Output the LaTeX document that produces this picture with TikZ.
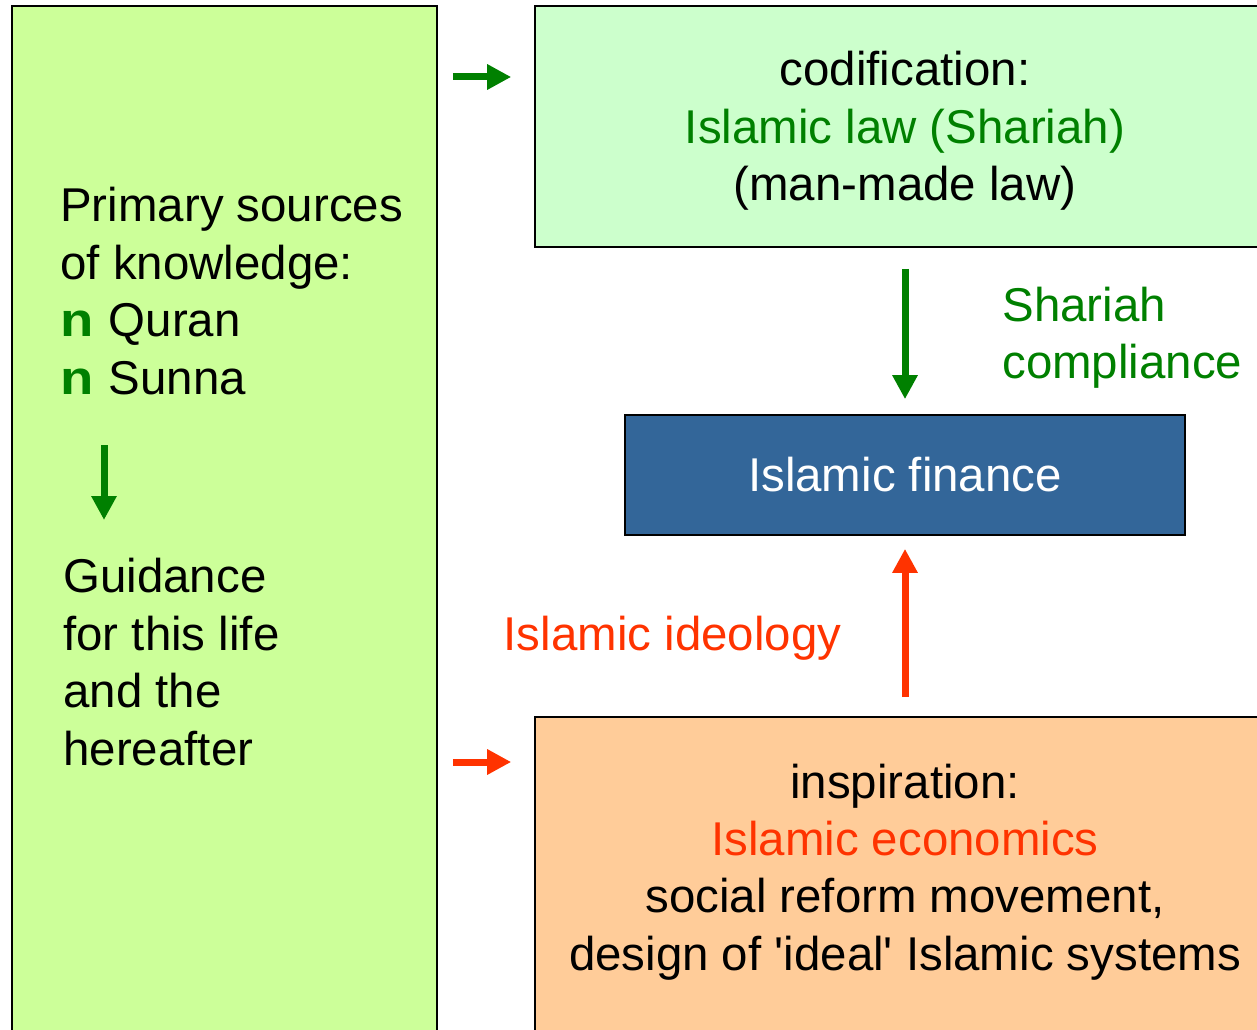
\documentclass[tikz,border=0pt]{standalone}
\usepackage{fontspec}
\setmainfont{Liberation Sans}
\usepackage{xcolor}
\usepackage{tikz}
\usetikzlibrary{positioning, arrows.meta, calc}
\definecolor{srcbg}{HTML}{CCFF99}
\definecolor{lawbg}{HTML}{CCFFCC}
\definecolor{finbg}{HTML}{336699}
\definecolor{ecobg}{HTML}{FFCC99}
\definecolor{shgreen}{HTML}{008000}
\definecolor{idred}{HTML}{FF3300}
\newcommand{\srcbullet}{{\color{shgreen}\textbf{\scalebox{1.15}[1]{n}}}\hspace{0.32em}}
\tikzset{
  box/.style={
    rectangle, draw=black, line width=1pt, inner sep=0pt
  },
  txt/.style={
    inner sep=0pt, font=\fontsize{27}{32.7}\selectfont
  },
  greenarrow/.style={draw=shgreen, line width=0.14cm,
    -{Triangle[width=0.48cm, length=0.48cm]}},
  redarrow/.style={draw=idred, line width=0.14cm,
    -{Triangle[width=0.48cm, length=0.48cm]}},
}

\begin{document}
\begin{tikzpicture}[x=0.02cm, y=-0.02cm]
  \useasboundingbox (0,0) rectangle (1257,1030);
  \clip (0,0) rectangle (1257,1030);

  % boxes
  \node[box, fill=srcbg, minimum width=8.5cm, minimum height=20.88cm] (sources) at (224.5,528) {};
  \node[box, fill=lawbg, minimum width=14.8cm, minimum height=4.82cm] (codif) at (905,126.5) {};
  \node[box, fill=finbg, minimum width=11.2cm, minimum height=2.4cm] (finance) at (905,475) {};
  \node[box, fill=ecobg, minimum width=14.8cm, minimum height=6.66cm] (inspire) at (905,883.5) {};

  % texts
  \node[txt, anchor=west, align=left] (primary) at (60,291)
    {Primary sources\\of knowledge:\\\srcbullet Quran\\\srcbullet Sunna};
  \node[txt, anchor=west, align=left] (guidance) at (63,662)
    {Guidance\\for this life\\and the\\hereafter};
  \node[txt, align=center] (lawtext) at (905,131)
    {codification:\\{\color{shgreen}Islamic law (Shariah)}\\(man-made law)};
  \node[txt, text=white] (fintext) at (905,475) {Islamic finance};
  \node[txt, align=center] (ecotext) at (905,872)
    {inspiration:\\{\color{idred}Islamic economics}\\social reform movement,\\design of \textquotesingle ideal\textquotesingle\ Islamic systems};
  \node[txt, anchor=west, align=left, text=shgreen] (compliance) at (1002,338)
    {Shariah\\compliance};
  \node[txt, text=idred] (ideology) at (672.5,638) {Islamic ideology};

  % arrows
  \coordinate (srcend) at (104,445);
  \coordinate (guideend) at (104,520);
  \draw[greenarrow] (srcend) -- (guideend);
  \draw[greenarrow, shorten <=0.3cm, shorten >=0.46cm] (sources.east |- 0,77) -- (codif.west |- 0,77);
  \draw[redarrow, shorten <=0.3cm, shorten >=0.46cm] (sources.east |- 0,762) -- (inspire.west |- 0,762);
  \draw[greenarrow, shorten <=0.42cm, shorten >=0.3cm] (codif) -- (finance);
  \draw[redarrow, shorten <=0.38cm, shorten >=0.26cm] (inspire) -- (finance);
\end{tikzpicture}
\end{document}
